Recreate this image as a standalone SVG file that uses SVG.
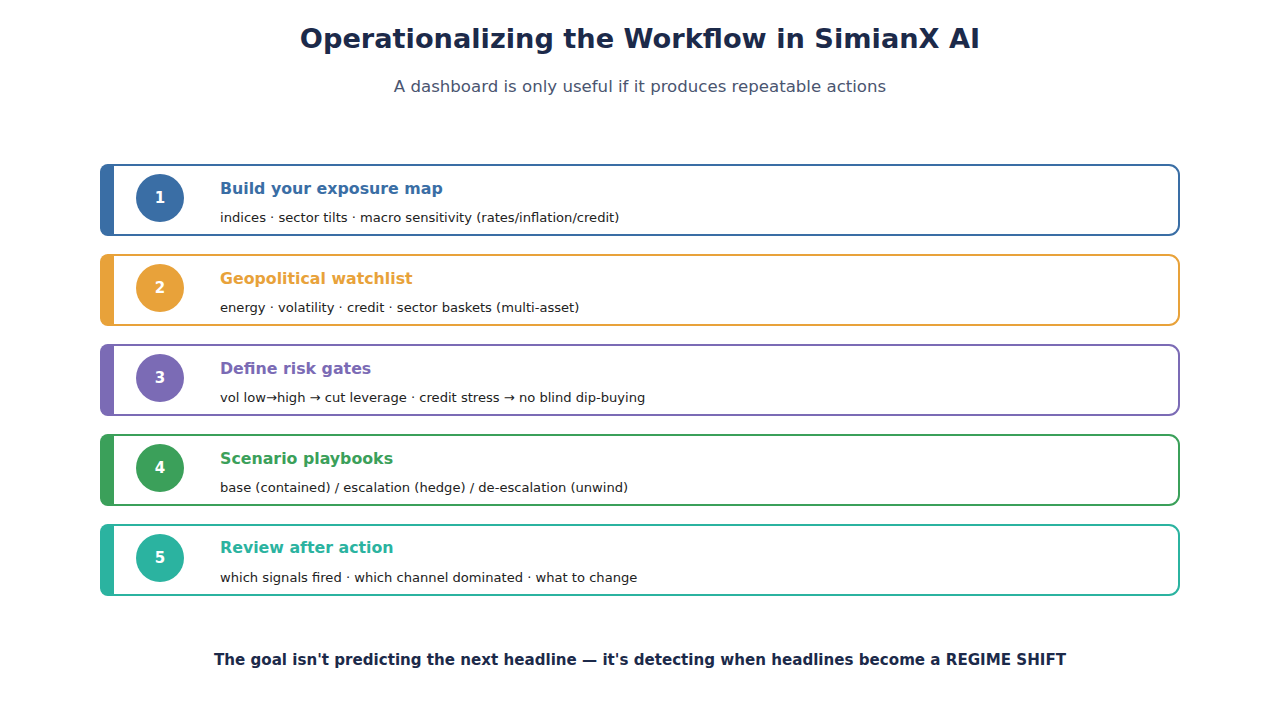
<svg xmlns="http://www.w3.org/2000/svg" width="1280" height="720" viewBox="0 0 1280 720">
<style>
text{font-family:"DejaVu Sans","Noto Sans",sans-serif}
.title{font-size:27.2px;font-weight:bold;fill:#1c2a4a}
.sub{font-size:16.6px;fill:#4a5570}
.foot{font-size:15.1px;font-weight:bold;fill:#1c2a4a}
.card{fill:#fff;stroke-width:2}
.num{font-size:15px;font-weight:bold;fill:#fff}
.ht{font-size:15.8px;font-weight:bold}
.dt{font-size:13.1px;fill:#222}
</style>
<rect width="1280" height="720" fill="#fff"/>
<text class="title" x="640" y="48" text-anchor="middle">Operationalizing the Workflow in SimianX AI</text>
<text class="sub" x="640" y="92" text-anchor="middle">A dashboard is only useful if it produces repeatable actions</text>
<g id="step1">
<rect class="card" x="101" y="165" width="1078" height="70" rx="10" stroke="#3a6ea5"/>
<path d="M108 164H114V236H108A8 8 0 0 1 100 228V172A8 8 0 0 1 108 164Z" fill="#3a6ea5"/>
<circle cx="160" cy="198" r="24" fill="#3a6ea5"/>
<text class="num" x="160" y="203" text-anchor="middle">1</text>
<text class="ht" x="220" y="194" fill="#3a6ea5">Build your exposure map</text>
<text class="dt" x="220" y="222">indices · sector tilts · macro sensitivity (rates/inflation/credit)</text>
</g>
<g id="step2">
<rect class="card" x="101" y="255" width="1078" height="70" rx="10" stroke="#e8a23a"/>
<path d="M108 254H114V326H108A8 8 0 0 1 100 318V262A8 8 0 0 1 108 254Z" fill="#e8a23a"/>
<circle cx="160" cy="288" r="24" fill="#e8a23a"/>
<text class="num" x="160" y="293" text-anchor="middle">2</text>
<text class="ht" x="220" y="284" fill="#e8a23a">Geopolitical watchlist</text>
<text class="dt" x="220" y="312">energy · volatility · credit · sector baskets (multi-asset)</text>
</g>
<g id="step3">
<rect class="card" x="101" y="345" width="1078" height="70" rx="10" stroke="#7b6bb5"/>
<path d="M108 344H114V416H108A8 8 0 0 1 100 408V352A8 8 0 0 1 108 344Z" fill="#7b6bb5"/>
<circle cx="160" cy="378" r="24" fill="#7b6bb5"/>
<text class="num" x="160" y="383" text-anchor="middle">3</text>
<text class="ht" x="220" y="374" fill="#7b6bb5">Define risk gates</text>
<text class="dt" x="220" y="402">vol low→high → cut leverage · credit stress → no blind dip-buying</text>
</g>
<g id="step4">
<rect class="card" x="101" y="435" width="1078" height="70" rx="10" stroke="#3ba05a"/>
<path d="M108 434H114V506H108A8 8 0 0 1 100 498V442A8 8 0 0 1 108 434Z" fill="#3ba05a"/>
<circle cx="160" cy="468" r="24" fill="#3ba05a"/>
<text class="num" x="160" y="473" text-anchor="middle">4</text>
<text class="ht" x="220" y="464" fill="#3ba05a">Scenario playbooks</text>
<text class="dt" x="220" y="492">base (contained) / escalation (hedge) / de-escalation (unwind)</text>
</g>
<g id="step5">
<rect class="card" x="101" y="525" width="1078" height="70" rx="10" stroke="#2bb3a0"/>
<path d="M108 524H114V596H108A8 8 0 0 1 100 588V532A8 8 0 0 1 108 524Z" fill="#2bb3a0"/>
<circle cx="160" cy="558" r="24" fill="#2bb3a0"/>
<text class="num" x="160" y="563" text-anchor="middle">5</text>
<text class="ht" x="220" y="553" fill="#2bb3a0">Review after action</text>
<text class="dt" x="220" y="582">which signals fired · which channel dominated · what to change</text>
</g>
<g id="connectors"/>
<text class="foot" x="640" y="665" text-anchor="middle">The goal isn't predicting the next headline — it's detecting when headlines become a REGIME SHIFT</text>
</svg>
